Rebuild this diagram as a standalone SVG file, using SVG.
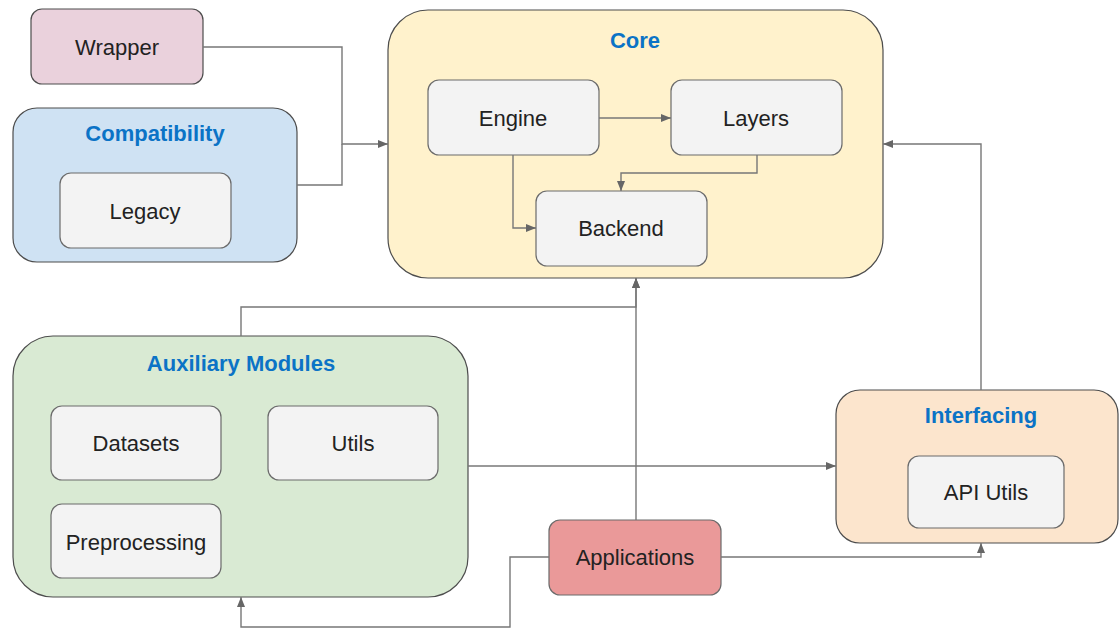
<svg xmlns="http://www.w3.org/2000/svg" width="1119" height="628" viewBox="0 0 1119 628">
<defs>
<marker id="arr" viewBox="0 0 10 10" refX="10" refY="5" markerWidth="10" markerHeight="10" markerUnits="userSpaceOnUse" orient="auto">
<path d="M0,1 L10,5 L0,9 Z" fill="#666"/>
</marker>
<style>
.grp{stroke:#4d4d4d;stroke-width:1.2}
.inner{fill:#f3f3f3;stroke:#6b6b6b;stroke-width:1.2}
.lbl{font-family:"Liberation Sans",Arial,sans-serif;font-size:22px;fill:#222;text-anchor:middle}
.ttl{font-family:"Liberation Sans",Arial,sans-serif;font-size:22px;font-weight:bold;fill:#0b73c6;text-anchor:middle}
.conn path{fill:none;stroke:#777;stroke-width:1.4}
</style>
</defs>
<rect width="1119" height="628" fill="#ffffff"/>

<g id="wrapper">
<rect x="31" y="9" width="172" height="75" rx="11" fill="#ead1dc" class="grp"/>
<text x="117" y="55" class="lbl">Wrapper</text>
</g>

<g id="compatibility">
<rect x="13" y="108" width="284" height="154" rx="24" fill="#cfe2f3" class="grp"/>
<text x="155" y="141" class="ttl">Compatibility</text>
</g>
<g id="legacy">
<rect x="60" y="173" width="171" height="75" rx="11" class="inner"/>
<text x="145" y="219" class="lbl">Legacy</text>
</g>

<g id="core">
<rect x="388" y="10" width="495" height="268" rx="40" fill="#fff2cc" class="grp"/>
<text x="635" y="48" class="ttl">Core</text>
</g>
<g id="engine">
<rect x="428" y="80" width="171" height="75" rx="11" class="inner"/>
<text x="513" y="126" class="lbl">Engine</text>
</g>
<g id="layers">
<rect x="671" y="80" width="171" height="75" rx="11" class="inner"/>
<text x="756" y="126" class="lbl">Layers</text>
</g>
<g id="backend">
<rect x="536" y="191" width="171" height="75" rx="11" class="inner"/>
<text x="621" y="236" class="lbl">Backend</text>
</g>

<g id="auxiliary">
<rect x="13" y="336" width="455" height="261" rx="40" fill="#d9ead3" class="grp"/>
<text x="241" y="371" class="ttl">Auxiliary Modules</text>
</g>
<g id="datasets">
<rect x="51" y="406" width="170" height="74" rx="11" class="inner"/>
<text x="136" y="451" class="lbl">Datasets</text>
</g>
<g id="utils">
<rect x="268" y="406" width="170" height="74" rx="11" class="inner"/>
<text x="353" y="451" class="lbl">Utils</text>
</g>
<g id="preprocessing">
<rect x="51" y="504" width="170" height="74" rx="11" class="inner"/>
<text x="136" y="550" class="lbl">Preprocessing</text>
</g>

<g id="interfacing">
<rect x="836" y="390" width="282" height="153" rx="24" fill="#fce5cd" class="grp"/>
<text x="981" y="423" class="ttl">Interfacing</text>
</g>
<g id="apiutils">
<rect x="908" y="456" width="156" height="72" rx="11" class="inner"/>
<text x="986" y="500" class="lbl">API Utils</text>
</g>

<g id="applications">
<rect x="549" y="520" width="172" height="75" rx="11" fill="#ea9999" stroke="#6b6b6b" stroke-width="1.2"/>
<text x="635" y="565" class="lbl">Applications</text>
</g>

<g id="connectors" class="conn">
<path d="M203,47 H342 V144 H388" marker-end="url(#arr)"/>
<path d="M297,185 H342 V144"/>
<path d="M599,118 H671" marker-end="url(#arr)"/>
<path d="M513,155 V228 H536" marker-end="url(#arr)"/>
<path d="M757,155 V173 H621 V191" marker-end="url(#arr)"/>
<path d="M981,390 V144 H883" marker-end="url(#arr)"/>
<path d="M241,336 V307 H636 V278" marker-end="url(#arr)"/>
<path d="M636,520 V278" marker-end="url(#arr)"/>
<path d="M468,466 H836" marker-end="url(#arr)"/>
<path d="M549,557 H510 V627 H241 V597" marker-end="url(#arr)"/>
<path d="M721,557 H981 V543" marker-end="url(#arr)"/>
</g>
</svg>
